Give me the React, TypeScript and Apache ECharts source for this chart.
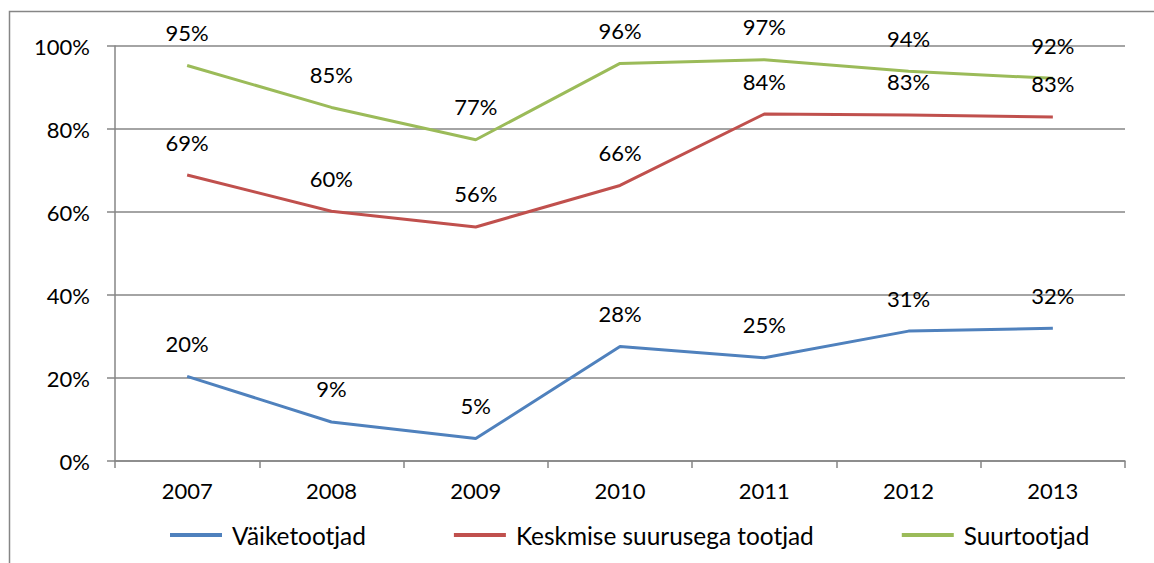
import React, { useEffect, useRef } from "react";
import * as echarts from "echarts";

const years = ["2007", "2008", "2009", "2010", "2011", "2012", "2013"];
const smallProducers = [20.4, 9.4, 5.4, 27.6, 24.9, 31.3, 32.0];
const mediumProducers = [68.9, 60.2, 56.4, 66.4, 83.6, 83.4, 82.9];
const largeProducers = [95.3, 85.2, 77.4, 95.8, 96.7, 93.9, 92.2];
const seriesNames = ["Väiketootjad", "Keskmise suurusega tootjad", "Suurtootjad"];
const colors = ["#4F81BD", "#C0504D", "#9BBB59"];

const FONT = "Lato";
const GRAY = "#868686";

export default function App() {
  const ref = useRef<HTMLDivElement>(null);
  useEffect(() => {
    if (!ref.current) return;
    const chart = echarts.init(ref.current, undefined, { renderer: "svg" });
    const mk = (name: string, data: number[], color: string) => ({
      name,
      type: "line",
      data,
      symbol: "circle",
      symbolSize: 0,
      showSymbol: true,
      lineStyle: { color, width: 3 },
      itemStyle: { color },
      labelLayout: { hideOverlap: false },
      label: {
        show: true,
        position: "top",
        distance: 22,
        color: "#000",
        fontFamily: FONT,
        fontSize: 22,
        formatter: (p: any) => Math.round(p.value) + "%",
      },
    });
    chart.setOption({
      animation: false,
      backgroundColor: "#fff",
      textStyle: { fontFamily: FONT },
      graphic: [
        {
          type: "rect",
          shape: { x: 9.5, y: 11.5, width: 1300, height: 700 },
          style: { fill: "none", stroke: GRAY, lineWidth: 1.5 },
          silent: true,
        },
      ],
      grid: { left: 115, right: 29, top: 46, bottom: 102, containLabel: false },
      legend: {
        left: 165,
        top: 516,
        itemWidth: 52,
        itemHeight: 4,
        itemGap: 88,
        icon: "rect",
        textStyle: { fontFamily: FONT, fontSize: 24.4, color: "#000", lineHeight: 28, padding: [0, 0, 0, 5] },
        data: seriesNames,
      },
      xAxis: {
        type: "category",
        data: years,
        boundaryGap: true,
        axisLine: { lineStyle: { color: GRAY, width: 1.5 } },
        axisTick: { show: true, length: 7, lineStyle: { color: GRAY, width: 1.5 } },
        axisLabel: { color: "#000", fontFamily: FONT, fontSize: 22, margin: 18 },
      },
      yAxis: {
        type: "value",
        min: 0,
        max: 100,
        interval: 20,
        axisLine: { show: true, lineStyle: { color: GRAY, width: 1.5 } },
        axisTick: { show: true, length: 8, lineStyle: { color: GRAY, width: 1.5 } },
        splitLine: { show: true, lineStyle: { color: GRAY, width: 1.5 } },
        axisLabel: { color: "#000", fontFamily: FONT, fontSize: 22, margin: 25, formatter: "{value}%" },
      },
      series: [
        mk(seriesNames[0], smallProducers, colors[0]),
        mk(seriesNames[1], mediumProducers, colors[1]),
        mk(seriesNames[2], largeProducers, colors[2]),
      ],
    });
    return () => chart.dispose();
  }, []);
  return (
    <div
      ref={ref}
      style={{ position: "absolute", left: 0, top: 0, width: 1154, height: 563 }}
    />
  );
}
